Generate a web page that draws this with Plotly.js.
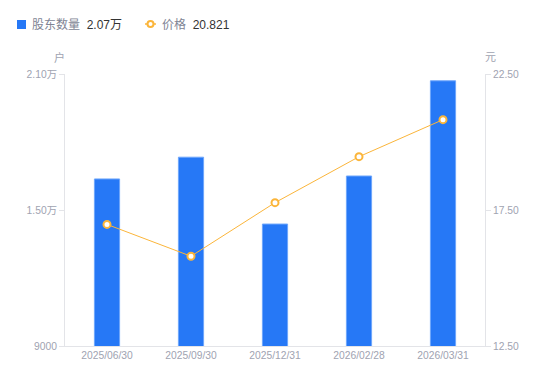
<!DOCTYPE html>
<html>
<head>
<meta charset="utf-8">
<script src="https://cdn.plot.ly/plotly-3.0.1.min.js"></script>
<style>
html,body{margin:0;padding:0;background:#fff;}
#chart{width:550px;height:381px;}
</style>
</head>
<body>
<div id="chart"></div>
<script>
const categories = ['2025/06/30','2025/09/30','2025/12/31','2026/02/28','2026/03/31'];
const holders = [16370, 17330, 14380, 16500, 20700];
const prices = [16.97, 15.80, 17.77, 19.46, 20.821];
const leftTickVals = [9000, 15000, 21000];
const leftTickText = ['9000', '1.50万', '2.10万'];
const rightTickVals = [12.5, 17.5, 22.5];
const rightTickText = ['12.50', '17.50', '22.50'];
const seriesNames = ['股东数量', '价格'];
const latestLabels = ['2.07万', '20.821'];

const FONT = '"Liberation Sans", Arial, "Noto Sans CJK SC", sans-serif';
const BLUE = '#2678f6';
const ORANGE = '#fbb53a';
const TICKC = '#a0a3b1';
const AXC = '#e3e4e8';

// pixel -> paper helpers for legend decorations
const L = 65, R = 485, T = 74, B = 346;
const px = x => (x - L) / (R - L);
const py = y => (B - y) / (B - T);

const traces = [
  {
    type: 'bar', x: categories, y: holders, yaxis: 'y', name: seriesNames[0],
    marker: {color: BLUE, line: {color: '#6ea6fb', width: 1}},
    width: 0.3, hoverinfo: 'skip'
  },
  {
    type: 'scatter', mode: 'lines+markers', x: categories, y: prices, yaxis: 'y2', name: seriesNames[1],
    line: {color: ORANGE, width: 1},
    marker: {color: '#ffffff', size: 7, line: {color: ORANGE, width: 2}},
    hoverinfo: 'skip'
  }
];

const layout = {
  width: 550, height: 381,
  margin: {l: L, r: 550 - R, t: T, b: 381 - B, pad: 0},
  paper_bgcolor: '#fff', plot_bgcolor: '#fff',
  showlegend: false,
  font: {family: FONT, size: 10, color: TICKC},
  bargap: 0.7,
  xaxis: {
    type: 'category', showgrid: false, zeroline: false,
    showline: true, linecolor: AXC, linewidth: 1,
    ticks: '', tickfont: {family: FONT, size: 10.3, color: TICKC},
    range: [-0.5, 4.5], fixedrange: true
  },
  yaxis: {
    range: [9000, 21000], tickvals: leftTickVals, ticktext: leftTickText,
    showgrid: false, zeroline: false, showline: true, linecolor: AXC, linewidth: 1,
    ticks: 'outside', ticklen: 5, tickcolor: AXC,
    tickfont: {family: FONT, size: 10.3, color: TICKC}, fixedrange: true
  },
  yaxis2: {
    range: [12.5, 22.5], tickvals: rightTickVals, ticktext: rightTickText,
    overlaying: 'y', side: 'right',
    showgrid: false, zeroline: false, showline: true, linecolor: AXC, linewidth: 1,
    ticks: 'outside', ticklen: 5, tickcolor: AXC,
    tickfont: {family: FONT, size: 10.3, color: TICKC}, fixedrange: true
  },
  shapes: [
    {type: 'rect', xref: 'paper', yref: 'paper', x0: px(17), x1: px(26), y0: py(29), y1: py(20),
     fillcolor: BLUE, line: {width: 0}},
    {type: 'line', xref: 'paper', yref: 'paper', x0: px(145), x1: px(156), y0: py(24), y1: py(24),
     line: {color: ORANGE, width: 1.5}},
    {type: 'circle', xref: 'paper', yref: 'paper', x0: px(147.5), x1: px(153.5), y0: py(27), y1: py(21),
     fillcolor: '#fff', line: {color: ORANGE, width: 2}}
  ],
  annotations: [
    {xref: 'paper', yref: 'paper', x: px(30), y: py(24), xanchor: 'left', yanchor: 'middle', showarrow: false,
     text: seriesNames[0] + '  <span style="color:#333333">' + latestLabels[0] + '</span>',
     font: {family: FONT, size: 12, color: '#808494'}},
    {xref: 'paper', yref: 'paper', x: px(160), y: py(24), xanchor: 'left', yanchor: 'middle', showarrow: false,
     text: seriesNames[1] + '  <span style="color:#333333">' + latestLabels[1] + '</span>',
     font: {family: FONT, size: 12, color: '#808494'}},
    {xref: 'paper', yref: 'paper', x: px(59), y: py(57), xanchor: 'center', yanchor: 'middle', showarrow: false,
     text: '户', font: {family: FONT, size: 11, color: TICKC}},
    {xref: 'paper', yref: 'paper', x: px(490), y: py(57), xanchor: 'center', yanchor: 'middle', showarrow: false,
     text: '元', font: {family: FONT, size: 11, color: TICKC}}
  ]
};

Plotly.newPlot('chart', traces, layout, {displayModeBar: false, staticPlot: true});
</script>
</body>
</html>
